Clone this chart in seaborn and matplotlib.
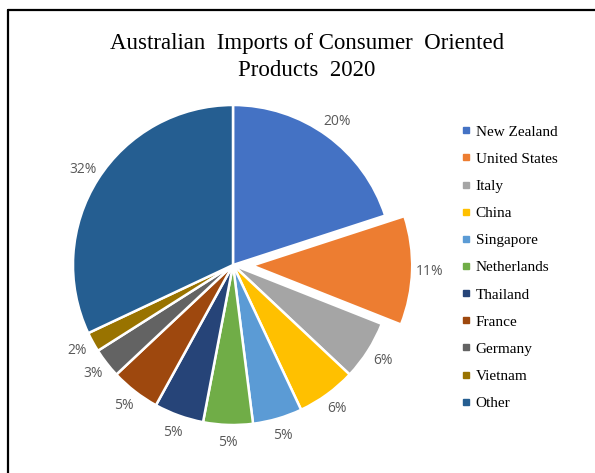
import matplotlib
matplotlib.use("Agg")
import matplotlib.pyplot as plt
from matplotlib.lines import Line2D
import seaborn as sns

countries = ["New Zealand", "United States", "Italy", "China", "Singapore",
             "Netherlands", "Thailand", "France", "Germany", "Vietnam", "Other"]
shares = [20, 11, 6, 6, 5, 5, 5, 5, 3, 2, 32]
colors = ["#4472C4", "#ED7D31", "#A5A5A5", "#FFC000", "#5B9BD5", "#70AD47",
          "#264478", "#9E480E", "#636363", "#997300", "#255E91"]
explode = [0, 0.12, 0, 0, 0, 0, 0, 0, 0, 0, 0]
title = "Australian  Imports of Consumer  Oriented\nProducts  2020"

sns.set_theme(style="white")
palette = sns.color_palette(colors)

W, H = 595, 473
fig = plt.figure(figsize=(W / 100, H / 100), dpi=100)
fig.patch.set_facecolor("white")

cx, cy, R = 233, 265, 160
half = 1.25 * R
ax = fig.add_axes([(cx - half) / W, (H - cy - half) / H, 2 * half / W, 2 * half / H])
wedges, texts, autotexts = ax.pie(
    shares, colors=palette, explode=explode, startangle=90, counterclock=False,
    autopct="%.0f%%", pctdistance=1.11,
    wedgeprops=dict(edgecolor="white", linewidth=1.8),
    textprops=dict(color="#595959", fontsize=10, family=["Open Sans", "DejaVu Sans"]))
ax.set_xlim(-1.25, 1.25)
ax.set_ylim(-1.25, 1.25)
ax.set_aspect("equal")
ax.axis("off")

fig.text(307 / W, 1 - 57 / H, title, ha="center", va="center", fontsize=16.5,
         family=["Liberation Serif", "DejaVu Serif"], linespacing=1.4, color="#000000")

handles = [Line2D([0], [0], marker="s", linestyle="none", markersize=4.5,
                  markerfacecolor=c, markeredgecolor=c) for c in colors]
leg = fig.legend(handles, countries, loc="upper left",
                 bbox_to_anchor=(461 / W, 1 - 125 / H), frameon=False,
                 prop=dict(family=["Liberation Serif", "DejaVu Serif"], size=11),
                 handlelength=0.6, handletextpad=0.35, labelspacing=0.88,
                 borderpad=0, borderaxespad=0)
for t in leg.get_texts():
    t.set_color("#000000")

fig.add_artist(Line2D([8 / W, 1], [1 - 10 / H, 1 - 10 / H], color="#000000", linewidth=1.6))
fig.add_artist(Line2D([8 / W, 8 / W], [0, 1 - 10 / H], color="#000000", linewidth=1.6))

fig.savefig("out.png", dpi=100, facecolor="white")
